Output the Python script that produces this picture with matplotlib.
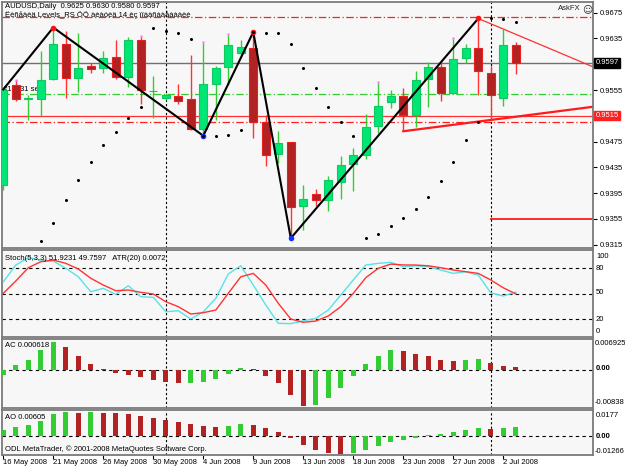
import numpy as np
import matplotlib
matplotlib.use("Agg")
import matplotlib.pyplot as plt
from matplotlib.patches import Rectangle
from matplotlib.transforms import blended_transform_factory
from matplotlib import font_manager

names = {f.name for f in font_manager.fontManager.ttflist}
if 'Liberation Sans Narrow' in names:
    plt.rcParams['font.family'] = ['Liberation Sans Narrow', 'DejaVu Sans']
    FS = 6.4
else:
    plt.rcParams['font.family'] = ['Liberation Sans', 'DejaVu Sans']
    FS = 5.5

# ---------------- data ----------------
dates = ["16 May 2008", "21 May 2008", "26 May 2008", "30 May 2008", "4 Jun 2008",
         "9 Jun 2008", "13 Jun 2008", "18 Jun 2008", "23 Jun 2008", "27 Jun 2008", "2 Jul 2008"]
date_bars = [0, 4, 8, 12, 16, 20, 24, 28, 32, 36, 40]

opens = [0.9408, 0.9563, 0.9541, 0.9541, 0.9572, 0.9626, 0.9573, 0.9592, 0.9589, 0.9606,
         0.9575, 0.9632, 0.9553, 0.9542, 0.9546, 0.9541, 0.9494, 0.9564, 0.9590, 0.9612,
         0.9620, 0.9505, 0.9456, 0.9474, 0.9375, 0.9394, 0.9385, 0.9413, 0.9440, 0.9454,
         0.9499, 0.9537, 0.9546, 0.9516, 0.9572, 0.9591, 0.9550, 0.9604, 0.9620, 0.9582,
         0.9543, 0.9625]
highs = [0.9558, 0.9570, 0.9547, 0.9616, 0.9652, 0.9647, 0.9643, 0.9597, 0.9616, 0.9633,
         0.9637, 0.9638, 0.9577, 0.9550, 0.9564, 0.9609, 0.9628, 0.9592, 0.9640, 0.9633,
         0.9645, 0.9516, 0.9491, 0.9475, 0.9408, 0.9401, 0.9422, 0.9452, 0.9465, 0.9518,
         0.9566, 0.9555, 0.9558, 0.9585, 0.9599, 0.9599, 0.9634, 0.9626, 0.9666, 0.9592,
         0.9649, 0.9630]
lows = [0.9400, 0.9538, 0.9508, 0.9514, 0.9570, 0.9542, 0.9552, 0.9581, 0.9582, 0.9572,
        0.9559, 0.9533, 0.9511, 0.9540, 0.9533, 0.9493, 0.9484, 0.9509, 0.9563, 0.9609,
        0.9480, 0.9437, 0.9441, 0.9325, 0.9338, 0.9375, 0.9367, 0.9386, 0.9399, 0.9448,
        0.9489, 0.9527, 0.9493, 0.9497, 0.9529, 0.9538, 0.9549, 0.9597, 0.9548, 0.9508,
        0.9530, 0.9580]
closes = [0.9555, 0.9541, 0.9542, 0.9571, 0.9627, 0.9573, 0.9589, 0.9587, 0.9604, 0.9575,
          0.9632, 0.9555, 0.9554, 0.9547, 0.9538, 0.9494, 0.9564, 0.9589, 0.9625, 0.9621,
          0.9506, 0.9454, 0.9472, 0.9374, 0.9386, 0.9385, 0.9415, 0.9439, 0.9454, 0.9498,
          0.9530, 0.9546, 0.9516, 0.9571, 0.9590, 0.9551, 0.9603, 0.9620, 0.9584, 0.9548,
          0.9625, 0.9597]

sar = [np.nan, np.nan, np.nan, 0.9321, 0.9348, 0.9384, 0.9415, 0.9444, 0.9469, 0.9490,
       0.9511, 0.9528, 0.9651, 0.9647, 0.9643, 0.9634, 0.9484, 0.9484, 0.9485, 0.9493,
       0.9645, 0.9644, 0.9644, 0.9626, 0.9589, 0.9558, 0.9529, 0.9505, 0.9484, 0.9325,
       0.9331, 0.9344, 0.9357, 0.9370, 0.9389, 0.9414, 0.9443, 0.9477, 0.9505, 0.9666,
       0.9665, 0.9660]

zz_bars = [0, 4, 16, 20, 23, 38]
zz_vals = [0.9556, 0.9652, 0.9484, 0.9645, 0.9325, 0.9666]
zz_high = [False, True, False, True, False, True]

fractal_bars = [1, 11, 16, 18, 30, 36]

bid = 0.9597
level_top = 0.9669
order_open = 0.9549
level_line = 0.9515
order_tp = 0.9505
level_short = 0.9355
level_short_start = 39
trend_a = ([38, 47.18], [0.9666, 0.9591])
trend_b = ([32, 47.18], [0.9491, 0.9529])

price_ticks = [0.9315, 0.9355, 0.9395, 0.9435, 0.9475, 0.9555, 0.9635, 0.9675]

stoch_main = [64, 83.9, 92.6, 89.8, 88.6, 80, 70, 52.3, 56.3, 49.2, 59.4, 46.4, 45.7, 28.6,
              29.8, 20, 28.6, 44.5, 73.3, 83, 60.2, 36.6, 14.9, 14.5, 17.8, 20.8, 30.6,
              48.4, 66.2, 83.9, 85.9, 87.1, 81.9, 83, 81.9, 78, 74, 76, 72, 51, 47.2, 51.9231]
stoch_sig = [50.4, 65, 80.7, 87.8, 89.8, 85.9, 79.2, 68.2, 60.2, 53.5, 54.3, 51.6, 49.6, 40.5,
             34.6, 25.9, 27.5, 30.6, 50.4, 70, 74, 60.2, 38.6, 20, 16.1, 17.6, 23.6, 34.6,
             50.4, 68.9, 80, 85, 84, 83.9, 83, 80.7, 78, 76, 74, 66.2, 57, 49.7597]

ac = [-0.00113, 0.00098, 0.00225, 0.00435, 0.00623, 0.00495, 0.0030, 0.00135, 0.0002,
      -0.00068, -0.00128, -0.00165, -0.00218, -0.00263, -0.0030, -0.0029, -0.00278,
      -0.00203, -0.0009, 0.00045, 0.00023, -0.00143, -0.0030, -0.00563, -0.0080, -0.0079,
      -0.00623, -0.00413, -0.0015, 0.00128, 0.00315, 0.00443, 0.00405, 0.00353, 0.0030,
      0.00225, 0.00195, 0.00225, 0.0024, 0.00143, 0.0009, 0.000618]
ao = [0.00408, 0.0059, 0.0075, 0.01044, 0.01475, 0.01634, 0.01588, 0.01634, 0.01588, 0.01543,
      0.01475, 0.01384, 0.01248, 0.01089, 0.0093, 0.00794, 0.00703, 0.00635, 0.00703, 0.00794,
      0.0075, 0.00522, 0.00295, -0.00159, -0.00625, -0.00965, -0.01135, -0.0120, -0.01157,
      -0.00976, -0.00703, -0.00408, -0.0025, -0.00113, 0.0009, 0.00136, 0.00272, 0.00386,
      0.0051, 0.0049, 0.0057, 0.00605]

separators = [13, 39]

# ---------------- layout ----------------
W, H = 625, 469
fig = plt.figure(figsize=(W / 100, H / 100), dpi=100, facecolor='white')

def add_ax(l, t, r, b):
    return fig.add_axes([l / W, 1 - b / H, (r - l) / W, (b - t) / H])

def ptext(x, y, s, **kw):
    kw.setdefault('fontsize', FS)
    kw.setdefault('va', 'center')
    fig.text(x / W, 1 - y / H, s, **kw)

XL = (-0.104, 47.18)
BG = '#f7f7f7'
FRAME = '#7a7a7a'

ax = add_ax(2, 2, 593, 248)
ax_st = add_ax(2, 250, 593, 337)
ax_ac = add_ax(2, 338.5, 593, 407.5)
ax_ao = add_ax(2, 410, 593, 454.5)

for a in (ax, ax_st, ax_ac, ax_ao):
    a.set_facecolor(BG)
    a.set_xlim(*XL)
    for s in a.spines.values():
        s.set_color(FRAME)
        s.set_linewidth(1.3)
    a.tick_params(axis='x', bottom=False, labelbottom=False)
    a.tick_params(axis='y', left=False, labelleft=False)
    for sp in separators:
        a.axvline(sp, color='black', lw=0.8, ls=(0, (2, 2)), zorder=2)

# ---------------- main pane ----------------
ax.set_ylim(0.93098, 0.96916)
ax.yaxis.tick_right()
ax.set_yticks(price_ticks)
ax.set_yticklabels([f"{v:.4f}" for v in price_ticks])
ax.tick_params(axis='y', right=True, labelright=True, length=3, width=0.8,
               labelsize=FS, pad=2, colors='black')

ax.axhline(level_top, color='#ff2020', lw=0.9, ls=(0, (6, 2, 1, 2)), zorder=1)
ax.axhline(bid, color='#707070', lw=1.0, zorder=1)
ax.axhline(order_open, color='#33cc33', lw=0.9, ls=(0, (6, 2, 1, 2)), zorder=1)
ax.axhline(level_line, color='#ff3030', lw=0.9, zorder=1)
ax.axhline(order_tp, color='#ff2020', lw=0.9, ls=(0, (6, 2, 1, 2)), zorder=1)
ax.plot([level_short_start, XL[1]], [level_short, level_short], color='#ff1a1a', lw=1.3, zorder=1)
ax.plot(trend_a[0], trend_a[1], color='#ff3030', lw=0.9, zorder=2)
ax.plot(trend_b[0], trend_b[1], color='#ff1a1a', lw=1.6, zorder=2)

ax.text(-0.05, order_open + 0.0001, "#15131 sell", fontsize=FS, va='bottom', ha='left', zorder=1.5)

bw = 0.64
for i, (o, h, l, c) in enumerate(zip(opens, highs, lows, closes)):
    up = c >= o
    wick = '#33cc33' if up else '#ff3333'
    face = '#00e676' if up else '#b22222'
    edge = '#10c860' if up else '#e82020'
    ax.plot([i, i], [l, h], color=wick, lw=1.0, zorder=3, solid_capstyle='butt')
    lo, hi = min(o, c), max(o, c)
    if hi - lo < 0.00008:
        ax.plot([i - bw / 2, i + bw / 2], [c, c], color=wick, lw=1.0, zorder=3.5)
    else:
        ax.add_patch(Rectangle((i - bw / 2, lo), bw, hi - lo, facecolor=face,
                               edgecolor=edge, lw=0.8, zorder=3.5))

for b in fractal_bars:
    ax.plot(b, highs[b] + 0.00012, marker='s', ms=1.6, color='#ff66ff', mec='none', zorder=4)

ax.plot(zz_bars, zz_vals, color='black', lw=1.5, zorder=5)
for b, v, hi in zip(zz_bars[1:], zz_vals[1:], zz_high[1:]):
    ax.plot(b, v, 'o', ms=4, color='#ff1010' if hi else '#1030ff', mec='none', zorder=6)

ax.plot(range(len(sar)), sar, 'o', ms=2.2, color='black', mec='none', zorder=6)

trY = blended_transform_factory(ax.transAxes, ax.transData)
ax.text(1.004, bid, "0.9597", transform=trY, fontsize=FS, color='white', va='center', ha='left',
        bbox=dict(boxstyle='square,pad=0.15', fc='black', ec='black'), zorder=10, clip_on=False)
ax.text(1.004, level_line, "0.9515", transform=trY, fontsize=FS, color='white', va='center', ha='left',
        bbox=dict(boxstyle='square,pad=0.15', fc='#ff2020', ec='#ff2020'), zorder=10, clip_on=False)

ptext(5, 7, "AUDUSD,Daily  0.9625 0.9630 0.9580 0.9597")
ptext(5, 15, "Ëèñåàèä Levels_RS ÖÖ àèàóèä 14 èç ïïààñààåàààèè")
ptext(558, 9, "AskFX", color='#222222')
ptext(582, 9, "\u263a", color='#222222', family=['DejaVu Sans'], fontsize=7)

# ---------------- stochastic ----------------
ax_st.set_ylim(-1.3, 101.7)
x = np.arange(len(stoch_main))
for lv in (20, 50, 80):
    ax_st.axhline(lv, color='black', lw=0.8, ls=(0, (3, 3)), zorder=1)
ax_st.plot(x, stoch_main, color='#55e3ea', lw=1.0, zorder=3)
ax_st.plot(x, stoch_sig, color='#ff3333', lw=1.0, zorder=3)
ptext(5, 258, "Stoch(5,3,3) 51.9231 49.7597   ATR(20) 0.0072")
ptext(596, 256, "100")
ptext(596, 268, "80")
ptext(596, 293, "50")
ptext(596, 319, "20")
ptext(596, 331, "0")

# ---------------- AC ----------------
ax_ac.set_ylim(-0.00838, 0.006925)
ax_ac.axhline(0, color='black', lw=0.8, ls=(0, (3, 3)), zorder=1)
ac_cols = ['#32cd32' if i == 0 or ac[i] > ac[i - 1] else '#b22222' for i in range(len(ac))]
ax_ac.bar(x, ac, width=0.38, color=ac_cols, zorder=3)
ptext(5, 345.5, "AC 0.000618")
ptext(595, 343, "0.006925")
ptext(596, 369, "0.00", fontweight='bold')
ptext(595, 402, "-0.00838")

# ---------------- AO ----------------
ax_ao.set_ylim(-0.01266, 0.0177)
ax_ao.axhline(0, color='black', lw=0.8, ls=(0, (3, 3)), zorder=1)
ao_cols = ['#32cd32' if i == 0 or ao[i] > ao[i - 1] else '#b22222' for i in range(len(ao))]
ax_ao.bar(x, ao, width=0.38, color=ao_cols, zorder=3)
ptext(5, 417, "AO 0.00605")
ptext(5, 449, "ODL MetaTrader, \u00a9 2001-2008 MetaQuotes Software Corp.")
ptext(596, 415, "0.0177")
ptext(596, 436, "0.00", fontweight='bold')
ptext(595, 451, "-0.01266")

ax_ao.set_xticks(date_bars)
ax_ao.tick_params(axis='x', bottom=True, length=3, width=0.8, labelbottom=False, colors='black')
trX = blended_transform_factory(ax_ao.transData, ax_ao.transAxes)
for b, d in zip(date_bars, dates):
    ax_ao.text(b - 0.02, -0.17, d, transform=trX, fontsize=FS, ha='left', va='center', clip_on=False)

fig.savefig("out.png", dpi=100, facecolor='white')
